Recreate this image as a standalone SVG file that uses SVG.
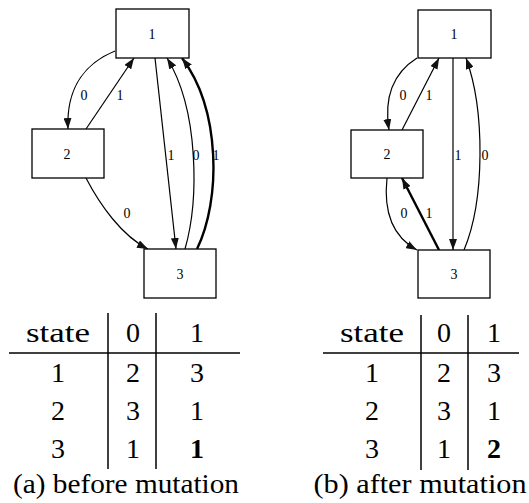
<svg xmlns="http://www.w3.org/2000/svg" width="529" height="503" viewBox="0 0 529 503">
<style>
.node rect{fill:#fff;stroke:#000;stroke-width:1.3}
.nl{font-size:14px;text-anchor:middle}
.el{font-size:14px;text-anchor:middle}
.edge{fill:none;stroke:#000;stroke-width:1.2;marker-end:url(#ah)}
.bold{stroke-width:2.4}
.tt{font-size:28px;text-anchor:middle}
.rule{stroke:#000;stroke-width:1.5}
</style>
<defs>
<marker id="ah" viewBox="0 0 11 8" refX="11" refY="4" markerWidth="11" markerHeight="8" markerUnits="userSpaceOnUse" orient="auto">
<path d="M0,0 L11,4 L0,8 Z" fill="#111"/>
</marker>
</defs>
<rect width="529" height="503" fill="#fff"/>
<g id="connectors">
<path class="edge" d="M115,51 C88,62 66,85 68,129"/>
<path class="edge" d="M86,129 L134,58"/>
<path class="edge" d="M86,178 C100,205 122,236 148,249"/>
<path class="edge" d="M155,58 L176,249"/>
<path class="edge" d="M185,249 C199,200 199,110 167,58"/>
<path class="edge bold" d="M197,249 C221,200 221,110 182,58"/>
<path class="edge" d="M417,58 C398,70 383,92 389,130"/>
<path class="edge" d="M402,130 L439,58"/>
<path class="edge" d="M453,58 L453,250"/>
<path class="edge" d="M464,250 C485,200 485,110 466,58"/>
<path class="edge" d="M387,178 C383,215 395,238 417,250"/>
<path class="edge bold" d="M439,250 L402,178"/>
</g>
<g font-family="Liberation Serif, DejaVu Serif, serif" fill="#000">
<g id="edge-labels">
<text class="el" x="84" y="100">0</text>
<text class="el" x="120" y="100">1</text>
<text class="el" x="127" y="218">0</text>
<text class="el" x="171" y="160">1</text>
<text class="el" x="196" y="160">0</text>
<text class="el" x="216" y="160">1</text>
<text class="el" x="403" y="100">0</text>
<text class="el" x="429" y="100">1</text>
<text class="el" x="458" y="160">1</text>
<text class="el" x="485" y="160">0</text>
<text class="el" x="404" y="218">0</text>
<text class="el" x="429" y="218">1</text>
</g>
<g id="a-n1" class="node"><rect x="116" y="9" width="73" height="49"/><text class="nl" x="152" y="39">1</text></g>
<g id="a-n2" class="node"><rect x="32" y="129" width="72" height="49"/><text class="nl" x="67" y="159">2</text></g>
<g id="a-n3" class="node"><rect x="144" y="249" width="72" height="49"/><text class="nl" x="180" y="279">3</text></g>
<g id="b-n1" class="node"><rect x="418" y="10" width="73" height="48"/><text class="nl" x="454" y="39">1</text></g>
<g id="b-n2" class="node"><rect x="351" y="130" width="72" height="48"/><text class="nl" x="387" y="159">2</text></g>
<g id="b-n3" class="node"><rect x="418" y="250" width="72" height="48"/><text class="nl" x="454" y="279">3</text></g>
<g id="table-a">
<line class="rule" x1="9" y1="353" x2="240" y2="353"/>
<line class="rule" x1="108" y1="313" x2="108" y2="469"/>
<line class="rule" x1="156" y1="313" x2="156" y2="469"/>
<text class="tt" x="58" y="342" textLength="64" lengthAdjust="spacingAndGlyphs">state</text>
<text class="tt" x="133" y="342">0</text>
<text class="tt" x="197" y="342">1</text>
<text class="tt" x="58" y="382">1</text><text class="tt" x="133" y="382">2</text><text class="tt" x="197" y="382">3</text>
<text class="tt" x="58" y="420">2</text><text class="tt" x="133" y="420">3</text><text class="tt" x="197" y="420">1</text>
<text class="tt" x="58" y="458">3</text><text class="tt" x="133" y="458">1</text><text class="tt" x="197" y="458" font-weight="bold">1</text>
<text class="tt" x="126" y="493" textLength="226" lengthAdjust="spacingAndGlyphs">(a) before mutation</text>
</g>
<g id="table-b">
<line class="rule" x1="323" y1="353" x2="519" y2="353"/>
<line class="rule" x1="421" y1="315" x2="421" y2="470"/>
<line class="rule" x1="468" y1="315" x2="468" y2="470"/>
<text class="tt" x="372" y="342" textLength="64" lengthAdjust="spacingAndGlyphs">state</text>
<text class="tt" x="444" y="342">0</text>
<text class="tt" x="494" y="342">1</text>
<text class="tt" x="372" y="382">1</text><text class="tt" x="444" y="382">2</text><text class="tt" x="494" y="382">3</text>
<text class="tt" x="372" y="420">2</text><text class="tt" x="444" y="420">3</text><text class="tt" x="494" y="420">1</text>
<text class="tt" x="372" y="458">3</text><text class="tt" x="444" y="458">1</text><text class="tt" x="494" y="458" font-weight="bold">2</text>
<text class="tt" x="420" y="493" textLength="213" lengthAdjust="spacingAndGlyphs">(b) after mutation</text>
</g>
</g>
</svg>
